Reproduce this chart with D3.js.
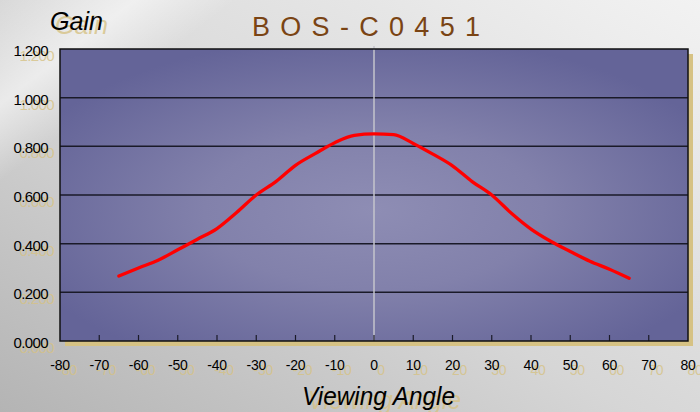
<!DOCTYPE html>
<html>
<head>
<meta charset="utf-8">
<script src="https://cdn.jsdelivr.net/npm/d3@7"></script>
<style>
  body { margin: 0; padding: 0; overflow: hidden; }
  svg { display: block; font-family: "Liberation Sans", Arial, sans-serif; }
</style>
</head>
<body>
<div id="chart-area"></div>
<script>
/* ---------- DATA ---------- */
var angles = [-65, -60, -55, -50, -45, -40, -35, -30, -25, -20, -15, -10, -5, 0,
              5, 10, 15, 20, 25, 30, 35, 40, 45, 50, 55, 60, 65];
var gains  = [0.267, 0.300, 0.332, 0.375, 0.418, 0.462, 0.528, 0.600, 0.655, 0.722, 0.770, 0.815, 0.845, 0.851,
              0.848, 0.812, 0.768, 0.720, 0.655, 0.600, 0.525, 0.460, 0.410, 0.368, 0.328, 0.295, 0.258];
var xTickValues = [-80, -70, -60, -50, -40, -30, -20, -10, 0, 10, 20, 30, 40, 50, 60, 70, 80];
var yTickValues = [0, 0.2, 0.4, 0.6, 0.8, 1.0, 1.2];

var chartTitle = "BOS-C0451";
var yTitle = "Gain";
var xTitle = "Viewing Angle";

/* ---------- DIMENSIONS ---------- */
var W = 700, H = 412;
var margin = { top: 49, right: 12, bottom: 71, left: 60 };
var width = W - margin.left - margin.right,
    height = H - margin.top - margin.bottom;

var gold = "#d6c284";

var svg = d3.select("#chart-area").append("svg")
    .attr("width", W)
    .attr("height", H);

var defs = svg.append("defs");

// page background
var bg = defs.append("linearGradient").attr("id", "bg")
    .attr("x1", "0").attr("y1", "1").attr("x2", "1").attr("y2", "0");
bg.append("stop").attr("offset", "0%").attr("stop-color", "#b4b4b4");
bg.append("stop").attr("offset", "45%").attr("stop-color", "#d6d6d6");
bg.append("stop").attr("offset", "100%").attr("stop-color", "#f2f2f2");

var streak = defs.append("linearGradient").attr("id", "streak")
    .attr("x1", "0").attr("y1", "0").attr("x2", "0.4").attr("y2", "0.6");
streak.append("stop").attr("offset", "0%").attr("stop-color", "#ffffff").attr("stop-opacity", 0.0);
streak.append("stop").attr("offset", "40%").attr("stop-color", "#ffffff").attr("stop-opacity", 0.55);
streak.append("stop").attr("offset", "70%").attr("stop-color", "#ffffff").attr("stop-opacity", 0.0);

// plot fill
var pg = defs.append("radialGradient").attr("id", "plotbg")
    .attr("cx", "0.5").attr("cy", "0.55").attr("r", "0.6");
pg.append("stop").attr("offset", "0%").attr("stop-color", "#8e8db4");
pg.append("stop").attr("offset", "45%").attr("stop-color", "#8281ab");
pg.append("stop").attr("offset", "100%").attr("stop-color", "#646498");

svg.append("rect").attr("width", W).attr("height", H).attr("fill", "url(#bg)");
svg.append("rect").attr("x", 0).attr("y", 0).attr("width", 260).attr("height", 300)
    .attr("fill", "url(#streak)");

var g = svg.append("g")
    .attr("transform", "translate(" + margin.left + ", " + margin.top + ")");

/* ---------- SCALES ---------- */
var x = d3.scaleLinear().domain([-80, 80]).range([0, width]);
var y = d3.scaleLinear().domain([0, 1.2]).range([height, 0]);

// text drawn twice: gold copy offset behind, black on top
function shadowText(parent, tx, ty, str, attrs, dx, dy) {
    [[dx, dy, gold, 0.8], [0, 0, "#000", 1]].forEach(function(s) {
        var t = parent.append("text")
            .attr("x", tx + s[0])
            .attr("y", ty + s[1])
            .attr("fill", s[2])
            .attr("fill-opacity", s[3])
            .text(str);
        for (var k in attrs) t.attr(k, attrs[k]);
    });
}

/* ---------- PLOT AREA ---------- */
g.append("rect")
    .attr("x", 5).attr("y", 5)
    .attr("width", width).attr("height", height)
    .attr("fill", gold);

g.append("rect")
    .attr("width", width).attr("height", height)
    .attr("fill", "url(#plotbg)");

// gridlines
g.append("g")
    .selectAll("line")
    .data(yTickValues.filter(function(d) { return d > 0 && d < 1.2; }))
    .enter().append("line")
        .attr("x1", 0).attr("x2", width)
        .attr("y1", function(d) { return y(d); })
        .attr("y2", function(d) { return y(d); })
        .attr("stroke", "#1a1a28")
        .attr("stroke-width", 1.5);

// zero line
g.append("line")
    .attr("x1", x(0)).attr("x2", x(0))
    .attr("y1", -3).attr("y2", height)
    .attr("stroke", "#c4c4cc")
    .attr("stroke-width", 1.5);

// x ticks inside
g.append("g")
    .selectAll("line")
    .data(xTickValues.filter(function(d) { return d > -80 && d < 80; }))
    .enter().append("line")
        .attr("x1", function(d) { return x(d); })
        .attr("x2", function(d) { return x(d); })
        .attr("y1", height).attr("y2", height - 6)
        .attr("stroke", "#1a1a28")
        .attr("stroke-width", 1.2);

// border
g.append("rect")
    .attr("width", width).attr("height", height)
    .attr("fill", "none")
    .attr("stroke", "#111")
    .attr("stroke-width", 1.5);

/* ---------- LINE ---------- */
var line = d3.line()
    .x(function(d, i) { return x(angles[i]); })
    .y(function(d) { return y(d); })
    .curve(d3.curveMonotoneX);

g.append("path")
    .datum(gains)
    .attr("d", line)
    .attr("fill", "none")
    .attr("stroke", "#ff0000")
    .attr("stroke-width", 3.3)
    .attr("stroke-linejoin", "round")
    .attr("stroke-linecap", "round");

/* ---------- AXIS LABELS ---------- */
var yFmt = d3.format(".3f");
yTickValues.forEach(function(v) {
    shadowText(g, -12, y(v) + 7, yFmt(v),
        { "text-anchor": "end", "font-size": "15px", "letter-spacing": "-0.6px" }, 6, 5);
});

xTickValues.forEach(function(v) {
    shadowText(g, x(v), height + 29, String(v),
        { "text-anchor": "middle", "font-size": "14px", "letter-spacing": "-0.2px" }, 7, 5);
});

/* ---------- TITLES ---------- */
svg.append("text")
    .attr("x", 252)
    .attr("y", 36)
    .attr("fill", "#7a4414")
    .attr("font-size", "27px")
    .attr("textLength", 228)
    .attr("lengthAdjust", "spacing")
    .text(chartTitle);

shadowText(svg, 50, 30, yTitle,
    { "font-size": "25px", "font-style": "italic", "textLength": 53, "lengthAdjust": "spacingAndGlyphs" }, 5, 4);

shadowText(svg, 302, 405, xTitle,
    { "font-size": "26px", "font-style": "italic", "textLength": 153, "lengthAdjust": "spacingAndGlyphs" }, 6, 4);
</script>
</body>
</html>
